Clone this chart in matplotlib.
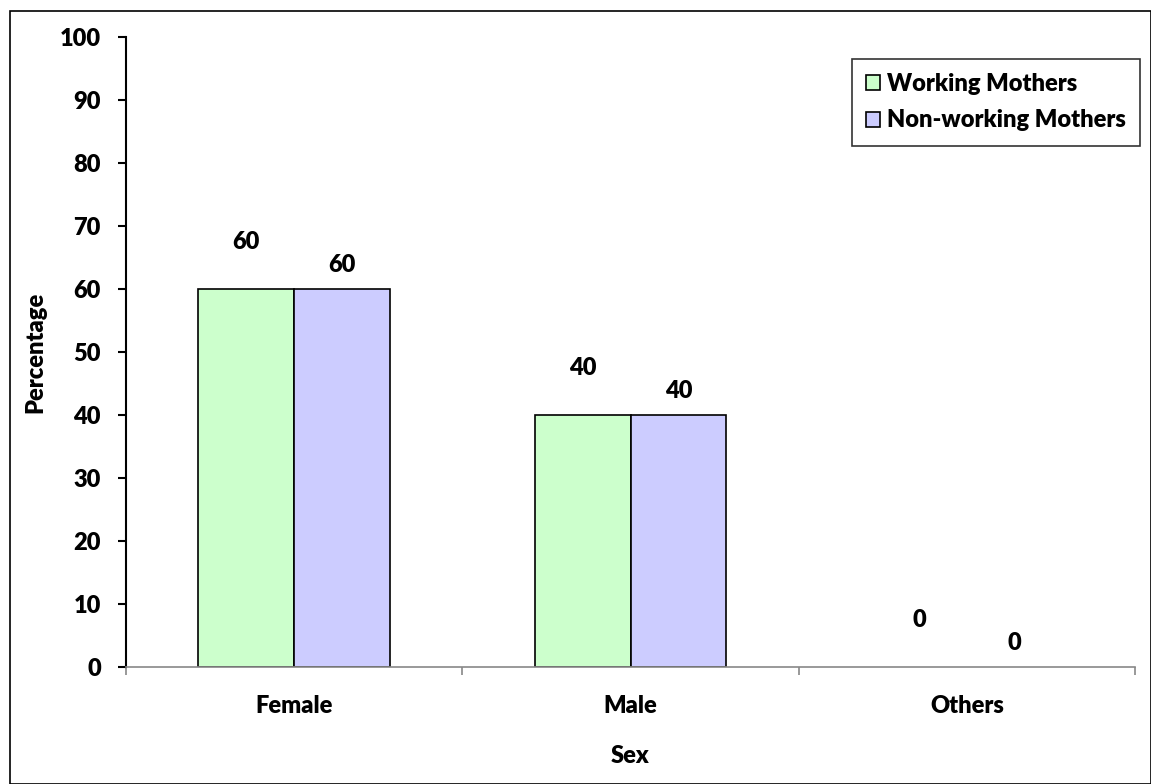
import matplotlib.pyplot as plt
import numpy as np
from matplotlib import font_manager as fm
from matplotlib.patches import Rectangle

categories = ['Female', 'Male', 'Others']
working = [60, 40, 0]
non_working = [60, 40, 0]
series_names = ['Working Mothers', 'Non-working Mothers']

FS = 17
fp = fm.FontProperties(family='Lato', weight=800, size=FS)

W, H = 1151, 784
fig = plt.figure(figsize=(W / 100, H / 100), dpi=100)
ax = fig.add_axes([126 / W, 1 - 667 / H, (1135 - 126) / W, (667 - 37) / H])

x = np.arange(len(categories))
bw = 0.285
b1 = ax.bar(x - bw / 2, working, bw, color='#CCFFCC', edgecolor='black', linewidth=1.2,
            label=series_names[0])
b2 = ax.bar(x + bw / 2, non_working, bw, color='#CCCCFF', edgecolor='black', linewidth=1.2,
            label=series_names[1])

# excel puts the labels at odd heights, offsets in points
for rects, vals, off in [(b1, working, 34), (b2, non_working, 17)]:
    for r, v in zip(rects, vals):
        if v == 0:
            r.set_linewidth(0)
        ax.annotate(str(v), (r.get_x() + r.get_width() / 2, v), xytext=(0, off),
                    textcoords='offset points', ha='center', va='center',
                    fontproperties=fp)

ax.set_xlim(-0.5, 2.5)
ax.set_ylim(0, 100)
ax.set_yticks(range(0, 101, 10))
ax.set_xticks([-0.5, 0.5, 1.5, 2.5], minor=False)
ax.set_xticklabels([])
ax.set_xticks(x, minor=True)
ax.set_xticklabels(categories, minor=True, fontproperties=fp)
ax.set_yticklabels([str(t) for t in range(0, 101, 10)], fontproperties=fp)
ax.tick_params(axis='x', which='minor', length=0, pad=20)
ax.tick_params(axis='x', which='major', length=6, color='#888888', width=1.2)
ax.tick_params(axis='y', length=6, width=1.5, pad=12)

for s in ['top', 'right']:
    ax.spines[s].set_visible(False)
ax.spines['left'].set_linewidth(1.5)
ax.spines['bottom'].set_color('#888888')
ax.spines['bottom'].set_linewidth(1.2)

ax.set_ylabel('Percentage', fontproperties=fp)
ax.yaxis.set_label_coords(-80 / (1135 - 126), 0.5)
ax.set_xlabel('Sex', fontproperties=fp)
ax.xaxis.set_label_coords(0.5, -78 / (667 - 37))

leg = ax.legend(loc='upper left', bbox_to_anchor=((852 - 126) / (1135 - 126), 1 - (59 - 37) / (667 - 37)),
                frameon=True, fancybox=False, edgecolor='black', prop=fp,
                handlelength=0.6, handleheight=0.6, handletextpad=0.3, borderpad=0.6,
                labelspacing=0.6, borderaxespad=0)
leg.get_frame().set_linewidth(1.2)

fig.patches.append(Rectangle((10 / W, 0), 1 - 10 / W, 1 - 11 / H, transform=fig.transFigure,
                             fill=False, edgecolor='black', linewidth=1.2))

fig.savefig('out.png', dpi=100)
